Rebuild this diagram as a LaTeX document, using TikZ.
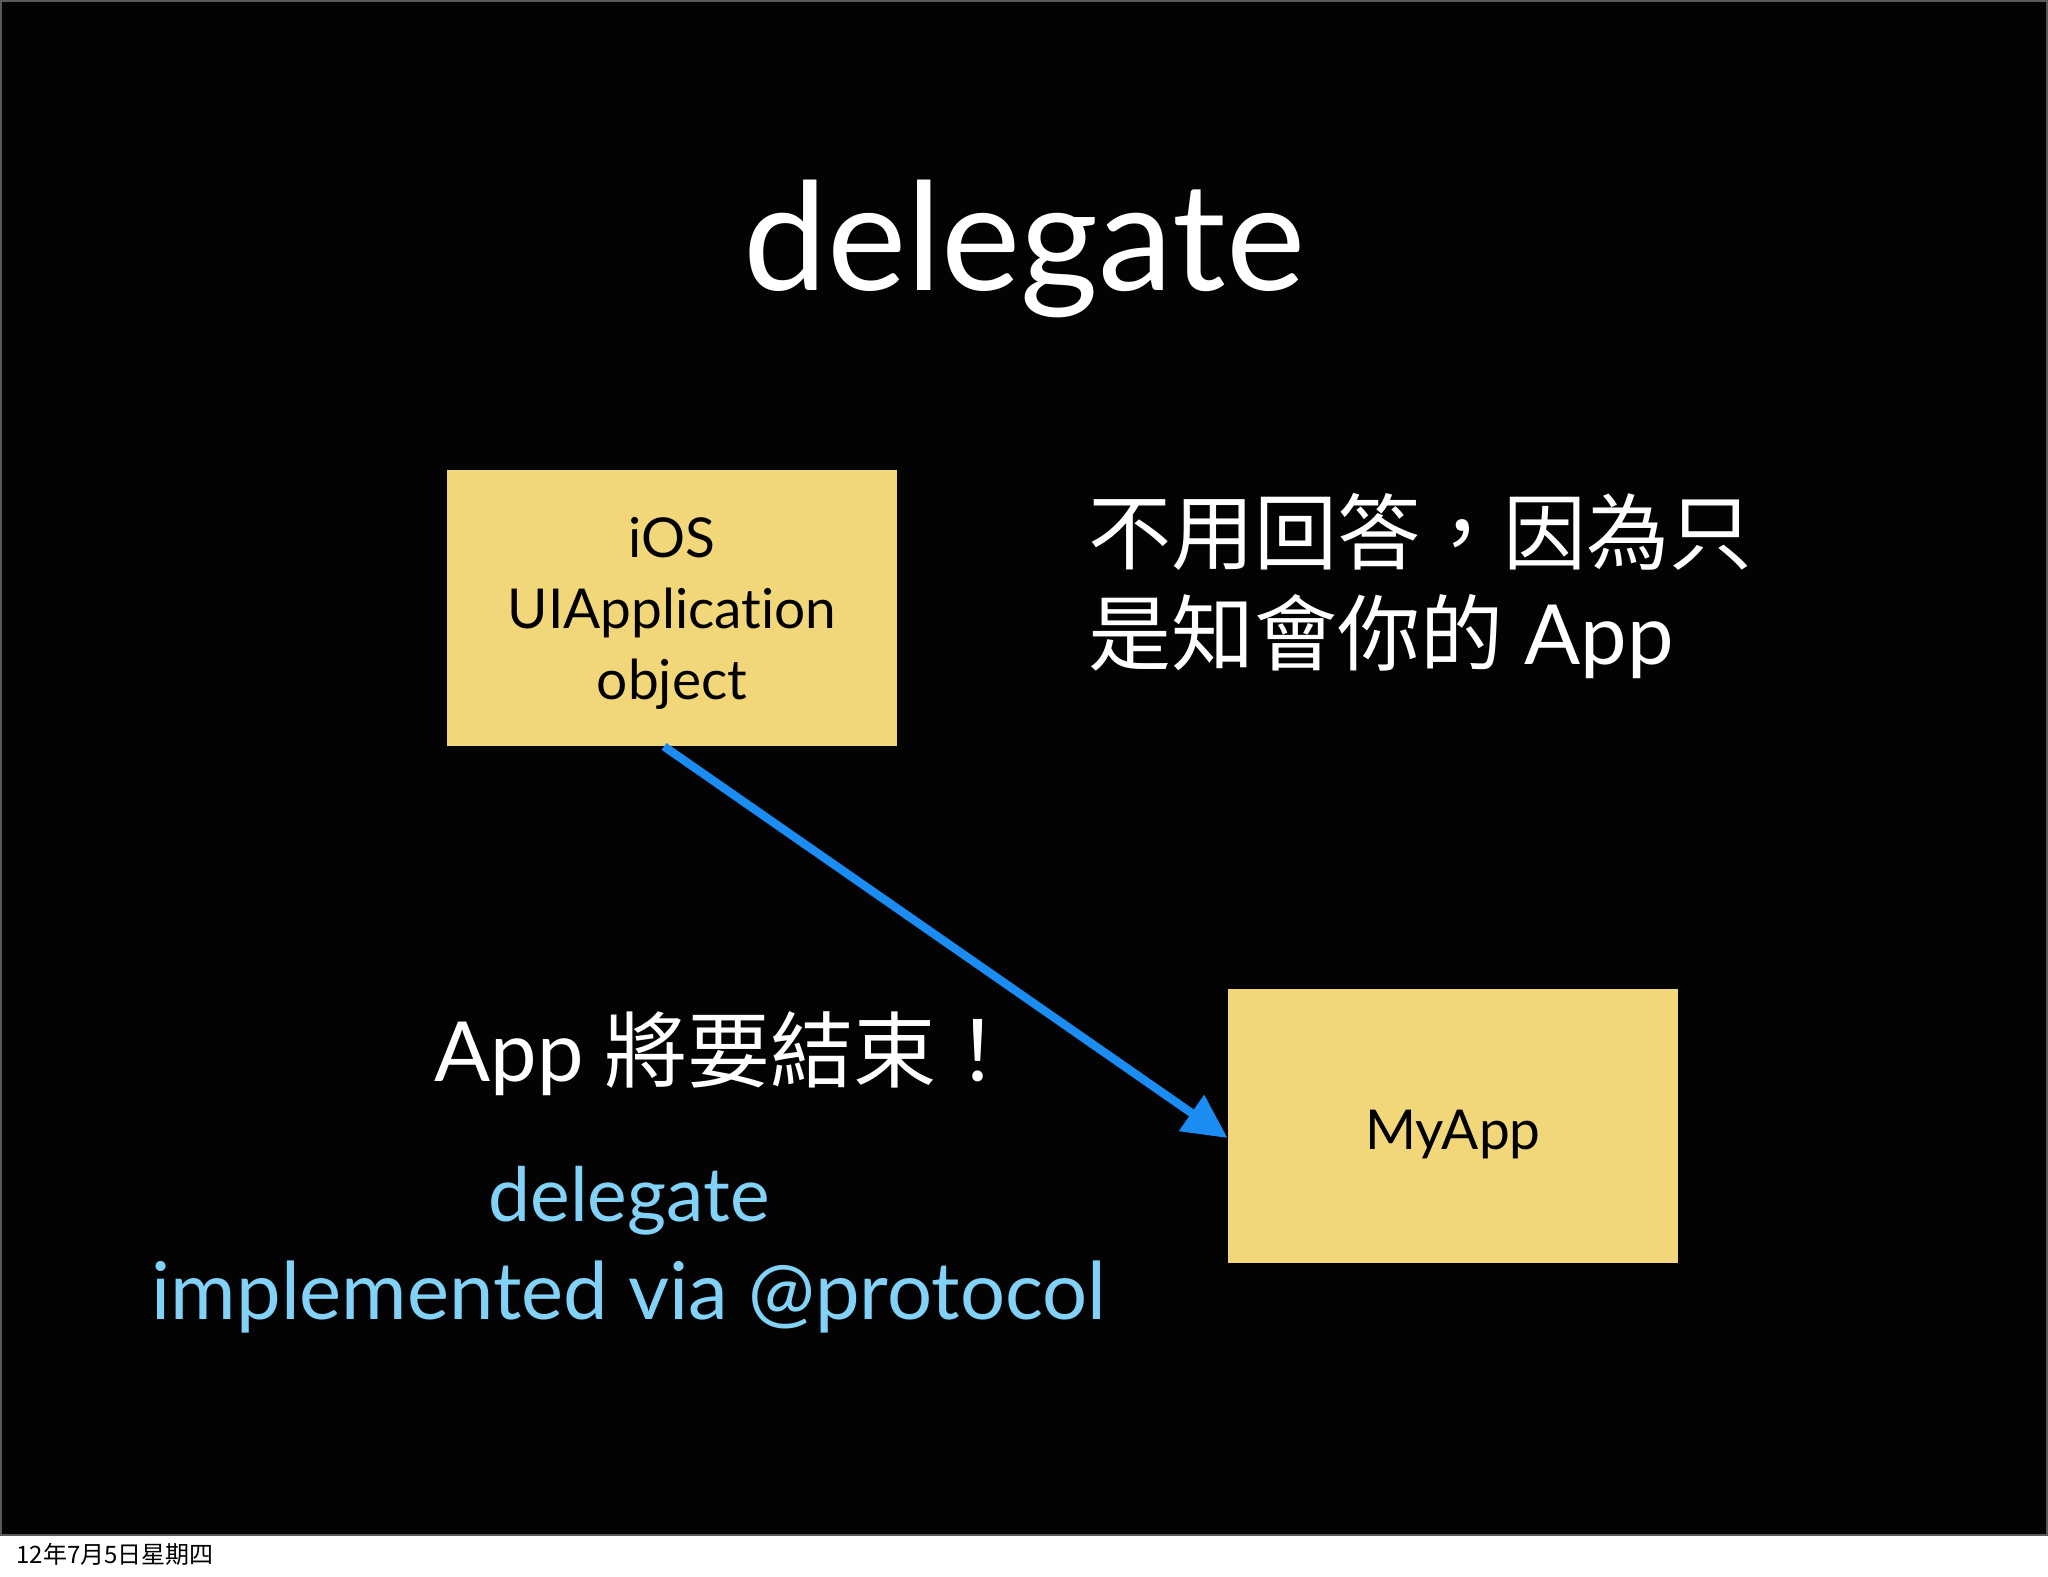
\documentclass[tikz,border=0pt]{standalone}
\usepackage{fontspec}
\setmainfont{Lato}[Ligatures=NoCommon]
\newfontfamily\cjk{Noto Sans CJK TC}
\usetikzlibrary{arrows.meta,calc}
\definecolor{slidebg}{HTML}{030303}
\definecolor{sticky}{HTML}{F2D77A}
\definecolor{arrowblue}{HTML}{1A8CF2}
\definecolor{lightblue}{HTML}{82D2F8}
\definecolor{slideframe}{HTML}{5A5A5A}
\begin{document}
\begin{tikzpicture}[x=0.5pt,y=-0.5pt,
  stickybox/.style={fill=sticky, draw=none, minimum width=225pt, inner sep=0pt,
    align=center, text=black, font=\fontsize{27.5}{35.5}\selectfont},
  whitetext/.style={text=white, inner sep=0pt, anchor=base west,
    font=\fontsize{41.5}{50}\selectfont},
  bluetext/.style={text=lightblue, inner sep=0pt, anchor=base,
    font=\fontsize{37.5}{45}\selectfont},
  linkarrow/.style={draw=arrowblue, line width=4.2pt,
    -{Triangle[length=22pt,width=21pt,fill=arrowblue]}}
]
\useasboundingbox (0,0) rectangle (2048,1576);
\fill[white] (0,0) rectangle (2048,1576);
\filldraw[fill=slidebg, draw=slideframe, line width=1pt] (1,1) rectangle (2047,1535);

\node[text=white, inner sep=0pt, anchor=base, font=\fontsize{75}{80}\selectfont] (title) at (1024,290) {delegate};

\node[stickybox, minimum height=138pt] (box1) at (672,608) {\rule{0pt}{25pt}iOS\\UIApplication\\object};
\node[stickybox, minimum height=137pt, text height=28pt, text depth=5pt] (box2) at (1453,1126) {MyApp};

\node[whitetext] (note1) at (1088,563) {\cjk 不用回答，因為只};
\node[whitetext] (note2) at (1088,664) {{\cjk 是知會你的} App};

\node[whitetext] (quit) at (434,1081) {App {\cjk 將要結束！}};

\node[bluetext] (dlg) at (629,1221) {delegate};
\node[bluetext, font=\fontsize{39.8}{45}\selectfont] (impl) at (629,1319) {implemented via @protocol};

\node[anchor=base west, inner sep=0pt, text=black, font=\cjk\fontsize{12}{14}\selectfont] (date) at (16,1563) {12年7月5日星期四};

\draw[linkarrow] ([xshift=-4pt]box1.south) -- ([yshift=-6pt]box2.west);
\end{tikzpicture}
\end{document}
